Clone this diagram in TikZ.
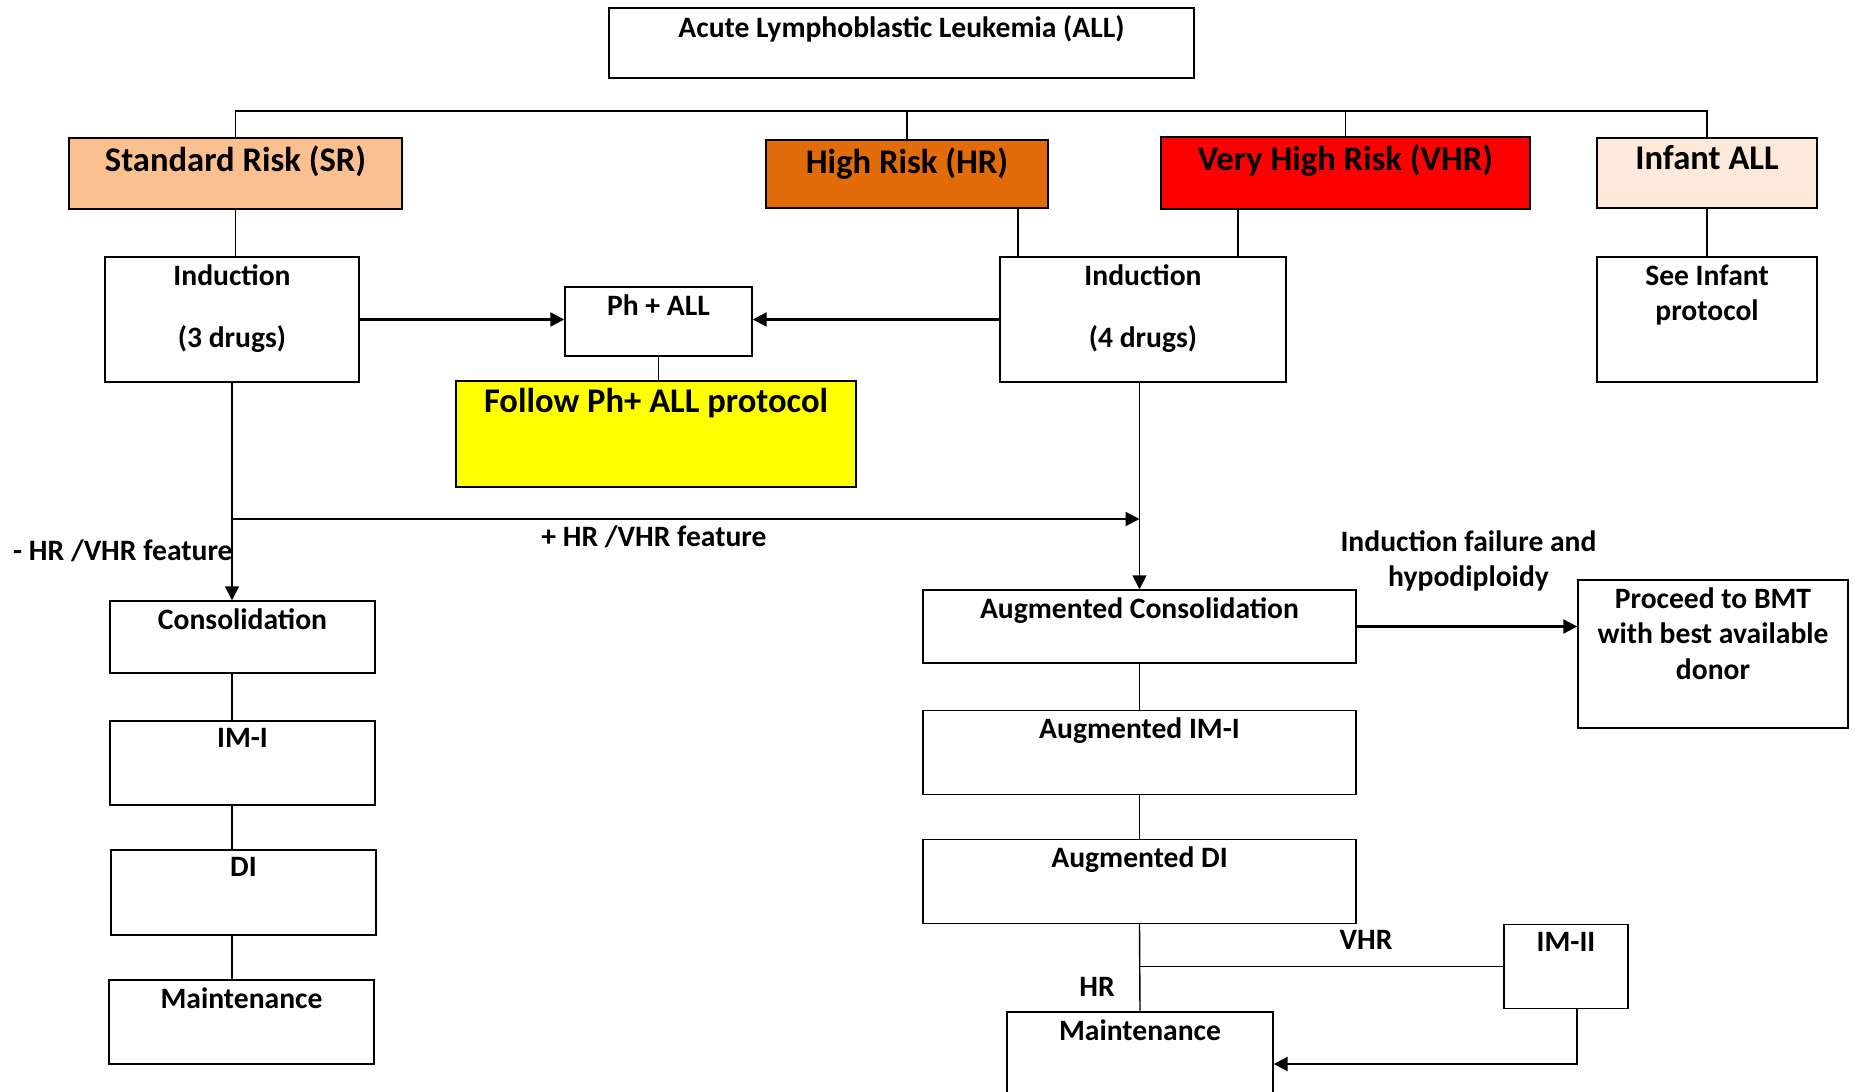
\documentclass[tikz,border=0pt]{standalone}
\usepackage{fontspec}
\setmainfont{Carlito}
\usetikzlibrary{arrows.meta}

\definecolor{srcolor}{RGB}{250,192,144}
\definecolor{hrcolor}{RGB}{227,108,10}
\definecolor{vhrcolor}{RGB}{255,0,0}
\definecolor{infcolor}{RGB}{253,233,217}
\definecolor{phcolor}{RGB}{255,255,0}

\newcommand{\smallfont}{\fontsize{14.8}{17.75}\selectfont\bfseries}
\newcommand{\bigfont}{\fontsize{17.3}{20}\selectfont\bfseries}

\tikzset{
  box/.style={draw, line width=0.7pt, inner sep=0pt, fill=white},
  lbl/.style={anchor=north, inner sep=4pt, align=center, font=\smallfont},
  biglbl/.style={lbl, font=\bigfont},
  conn/.style={line width=0.7pt},
  arr/.style={line width=1.1pt, -{Triangle[length=7pt,width=7pt]}},
  arrthin/.style={line width=0.7pt, -{Triangle[length=7pt,width=7pt]}},
  txt/.style={inner sep=0pt, align=center, font=\smallfont}
}

\begin{document}
\begin{tikzpicture}[x=0.5pt, y=-0.5pt]
\useasboundingbox (0,0) rectangle (1854,1092);
\clip (0,0) rectangle (1854,1092);

% top
\node[box, minimum width=292.5pt, minimum height=35pt,
  label={[lbl]north:Acute Lymphoblastic Leukemia (ALL)}] (all) at (901.5,43) {};

% risk groups
\node[box, fill=srcolor, minimum width=166.5pt, minimum height=35.5pt,
  label={[biglbl]north:Standard Risk (SR)}] (sr) at (235.5,173.5) {};
\node[box, fill=hrcolor, minimum width=141pt, minimum height=34pt,
  label={[biglbl]north:High Risk (HR)}] (hr) at (907,174) {};
\node[box, fill=vhrcolor, minimum width=184.5pt, minimum height=36pt,
  label={[biglbl]north:Very High Risk (VHR)}] (vhr) at (1345.5,173) {};
\node[box, fill=infcolor, minimum width=110pt, minimum height=35pt,
  label={[biglbl]north:Infant ALL}] (inf) at (1707,173) {};

% induction
\node[box, minimum width=127pt, minimum height=62.5pt,
  label={[lbl]north:Induction\\[13pt](3 drugs)}] (indsr) at (232,319.5) {};
\node[box, minimum width=93.5pt, minimum height=34.5pt,
  label={[lbl]north:Ph + ALL}] (ph) at (658.5,321.5) {};
\node[box, fill=phcolor, minimum width=200pt, minimum height=53pt,
  label={[biglbl]north:Follow Ph+ ALL protocol}] (phprot) at (656,434) {};
\node[box, minimum width=143pt, minimum height=62.5pt,
  label={[lbl]north:Induction\\[13pt](4 drugs)}] (indhr) at (1143,319.5) {};
\node[box, minimum width=110pt, minimum height=62.5pt,
  label={[lbl]north:See Infant\\protocol}] (seeinf) at (1707,319.5) {};

% SR arm
\node[box, minimum width=132.5pt, minimum height=36pt,
  label={[lbl]north:Consolidation}] (cons) at (242.5,637) {};
\node[box, minimum width=132.5pt, minimum height=42pt,
  label={[lbl]north:IM-I}] (imi) at (242.5,763) {};
\node[box, minimum width=132.5pt, minimum height=42.5pt,
  label={[lbl]north:DI}] (di) at (243.5,892.5) {};
\node[box, minimum width=132.5pt, minimum height=42pt,
  label={[lbl]north:Maintenance}] (maint) at (241.5,1022) {};

% HR / VHR arm
\node[box, minimum width=216.5pt, minimum height=36.5pt,
  label={[lbl]north:Augmented Consolidation}] (augcons) at (1139.5,626.5) {};
\node[box, minimum width=135pt, minimum height=74pt,
  label={[lbl]north:Proceed to BMT\\with best available\\donor}] (bmt) at (1713,654) {};
\node[box, minimum width=216.5pt, minimum height=42pt,
  label={[lbl]north:Augmented IM-I}] (augimi) at (1139.5,752.5) {};
\node[box, minimum width=216.5pt, minimum height=42pt,
  label={[lbl]north:Augmented DI}] (augdi) at (1139.5,881.5) {};
\node[box, minimum width=62pt, minimum height=42pt,
  label={[lbl]north:IM-II}] (imii) at (1566,966.5) {};
\node[box, minimum width=133pt, minimum height=50pt,
  label={[lbl]north:Maintenance}] (maintb) at (1140,1062) {};

% free texts
\node[txt, anchor=east] (negft) at (233,551) {- HR /VHR feature};
\node[txt] (failtxt) at (1468.5,561) {Induction failure and\\hypodiploidy};
\node[txt] (vhrtxt) at (1366,940) {VHR};
\node[txt] (hrtxt) at (1097,987) {HR};

\coordinate (bus) at (0,111);
\coordinate (hrx) at (1018,0);
\coordinate (vhrx) at (1238,0);
\coordinate (feat) at (0,519);
\coordinate (imx) at (1577,0);
\coordinate (back) at (0,1064);

% tree
\draw[conn] (sr.north) -- (sr.north |- bus) -- (inf.north |- bus) -- (inf.north);
\draw[conn] (hr.north) -- (hr.north |- bus);
\draw[conn] (vhr.north) -- (vhr.north |- bus);
\draw[conn] (sr.south) -- (sr.south |- indsr.north);
\draw[conn] (hr.south) -| (hrx |- indhr.north);
\draw[conn] (vhr.south) -| (vhrx |- indhr.north) -- (indhr.north);
\draw[conn] (inf.south) -- (seeinf.north);

% Ph+
\draw[arr] (indsr.east) -- (indsr.east -| ph.west);
\draw[arr] (indhr.west) -- (indhr.west -| ph.east);
\draw[conn] (ph.south) -- (ph.south |- phprot.north);

% SR down
\draw[arrthin] (indsr.south) -- (indsr.south |- cons.north);
\draw[arr] (indsr.south |- feat) -- (augcons.north |- feat)
  node[txt, pos=0.465, below=3pt] (posft) {+ HR /VHR feature};
\draw[conn] (indsr.south |- cons.south) -- (indsr.south |- imi.north);
\draw[conn] (indsr.south |- imi.south) -- (indsr.south |- di.north);
\draw[conn] (indsr.south |- di.south) -- (indsr.south |- maint.north);

% HR down
\draw[arrthin] (augcons.north |- indhr.south) -- (augcons.north);
\draw[arr] (augcons.east) -- (augcons.east -| bmt.west);
\draw[conn] (augcons.south) -- (augimi.north);
\draw[conn] (augimi.south) -- (augdi.north);
\draw[conn] (augdi.south) -- (maintb.north);
\draw[conn] (augdi.south |- imii.west) -- (imii.west);
\draw[arr] (imx |- imii.south) |- (maintb.east |- back);
\end{tikzpicture}
\end{document}
